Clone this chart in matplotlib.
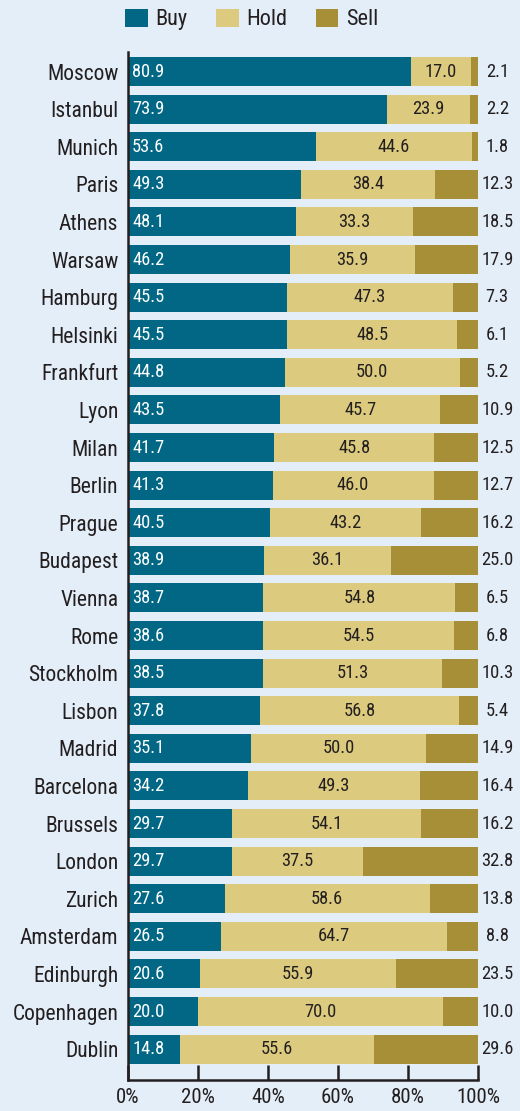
import matplotlib
matplotlib.use("Agg")
import matplotlib.pyplot as plt
from matplotlib.patches import Patch
from matplotlib import font_manager

cities = ["Moscow", "Istanbul", "Munich", "Paris", "Athens", "Warsaw", "Hamburg",
          "Helsinki", "Frankfurt", "Lyon", "Milan", "Berlin", "Prague", "Budapest",
          "Vienna", "Rome", "Stockholm", "Lisbon", "Madrid", "Barcelona", "Brussels",
          "London", "Zurich", "Amsterdam", "Edinburgh", "Copenhagen", "Dublin"]
buy = [80.9, 73.9, 53.6, 49.3, 48.1, 46.2, 45.5, 45.5, 44.8, 43.5, 41.7, 41.3, 40.5,
       38.9, 38.7, 38.6, 38.5, 37.8, 35.1, 34.2, 29.7, 29.7, 27.6, 26.5, 20.6, 20.0, 14.8]
hold = [17.0, 23.9, 44.6, 38.4, 33.3, 35.9, 47.3, 48.5, 50.0, 45.7, 45.8, 46.0, 43.2,
        36.1, 54.8, 54.5, 51.3, 56.8, 50.0, 49.3, 54.1, 37.5, 58.6, 64.7, 55.9, 70.0, 55.6]
sell = [2.1, 2.2, 1.8, 12.3, 18.5, 17.9, 7.3, 6.1, 5.2, 10.9, 12.5, 12.7, 16.2, 25.0,
        6.5, 6.8, 10.3, 5.4, 14.9, 16.4, 16.2, 32.8, 13.8, 8.8, 23.5, 10.0, 29.6]
xticks = [0, 20, 40, 60, 80, 100]
series_names = ["Buy", "Hold", "Sell"]

# Pick a narrow sans face if one is installed
fonts = font_manager.fontManager.ttflist
names = {f.name for f in fonts}
narrow = [n for n in ("Liberation Sans Narrow", "Roboto Condensed", "Open Sans Condensed")
          if n in names]
if narrow:
    plt.rcParams["font.family"] = [narrow[0]]
    scale = 1.0
elif any(f.name == "DejaVu Sans" and str(f.stretch) in ("condensed", "semi-condensed", "75", "87")
         for f in fonts):
    plt.rcParams["font.family"] = ["DejaVu Sans"]
    plt.rcParams["font.stretch"] = "condensed"
    scale = 0.95
else:
    plt.rcParams["font.family"] = ["Liberation Sans", "DejaVu Sans"]
    scale = 0.9

c_buy, c_hold, c_sell = "#016784", "#dccb7e", "#a78f37"
bg = "#e4eef8"
txt = "#231f20"

fig = plt.figure(figsize=(5.2, 11.11), dpi=100, facecolor=bg)
ax = fig.add_axes([128 / 520, 1 - 1080 / 1111, 350 / 520, 1028 / 1111])
ax.set_facecolor(bg)

y = list(range(len(cities)))
h = 0.77
ax.barh(y, buy, height=h, color=c_buy, linewidth=0)
ax.barh(y, hold, left=buy, height=h, color=c_hold, linewidth=0)
ax.barh(y, sell, left=[b + o for b, o in zip(buy, hold)], height=h, color=c_sell, linewidth=0)

vs = 13.3 * scale
for i in y:
    ax.text(1.2, i, f"{buy[i]:.1f}", color="white", fontsize=vs, va="center", ha="left")
    ax.text(buy[i] + hold[i] / 2, i, f"{hold[i]:.1f}", color=txt, fontsize=vs,
            va="center", ha="center")
    ax.text(105.5, i, f"{sell[i]:.1f}", color=txt, fontsize=vs, va="center",
            ha="center", clip_on=False)

ax.set_xlim(0, 100)
ax.set_ylim(len(cities) - 1 + 0.82, -0.52)
ax.set_yticks(y)
ax.set_yticklabels(cities, fontsize=15.5 * scale, color=txt)
ax.tick_params(axis="y", length=0, pad=7)
ax.set_xticks(xticks)
ax.set_xticklabels([f"{t}%" for t in xticks], fontsize=15 * scale, color=txt)
ax.tick_params(axis="x", direction="in", length=11, width=1.8, color=txt, pad=6)
for s in ("top", "right"):
    ax.spines[s].set_visible(False)
for s in ("left", "bottom"):
    ax.spines[s].set_linewidth(1.8)
    ax.spines[s].set_color(txt)

handles = [Patch(facecolor=c, edgecolor="none") for c in (c_buy, c_hold, c_sell)]
fig.legend(handles, series_names, loc="upper left", bbox_to_anchor=(112 / 520, 1.004),
           ncol=3, frameon=False, fontsize=16 * scale, handlelength=1.0, handleheight=0.85,
           columnspacing=1.3, handletextpad=0.35, borderaxespad=0.2, labelcolor=txt)

fig.savefig("out.png", dpi=100, facecolor=bg)
